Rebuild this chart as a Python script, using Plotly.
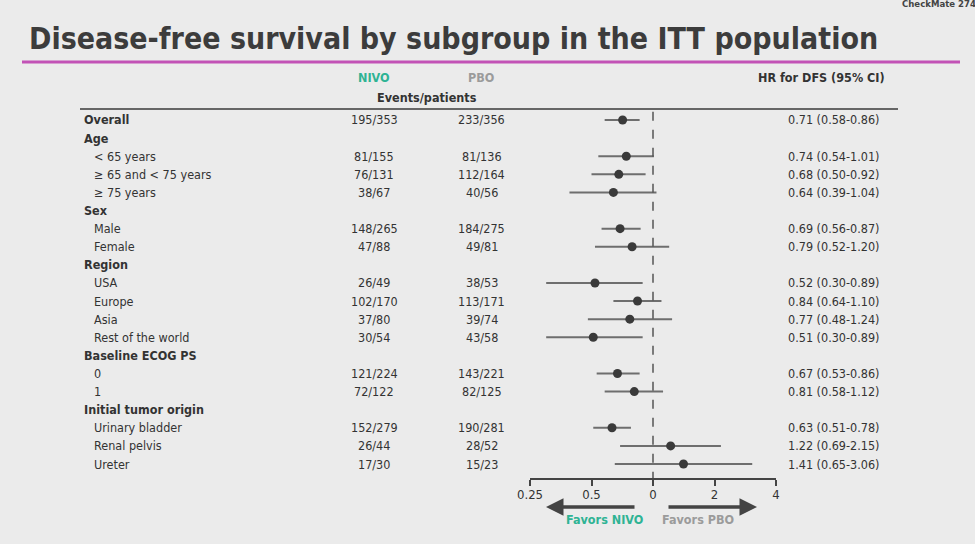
import math
import plotly.graph_objects as go

# ---------------- data ----------------
labels = ["Overall", "Age", "< 65 years", "≥ 65 and < 75 years", "≥ 75 years",
          "Sex", "Male", "Female", "Region", "USA", "Europe", "Asia",
          "Rest of the world", "Baseline ECOG PS", "0", "1",
          "Initial tumor origin", "Urinary bladder", "Renal pelvis", "Ureter"]
is_group = [True, True, False, False, False, True, False, False, True, False,
            False, False, False, True, False, False, True, False, False, False]
nivo = ["195/353", "", "81/155", "76/131", "38/67", "", "148/265", "47/88", "",
        "26/49", "102/170", "37/80", "30/54", "", "121/224", "72/122", "",
        "152/279", "26/44", "17/30"]
pbo = ["233/356", "", "81/136", "112/164", "40/56", "", "184/275", "49/81", "",
       "38/53", "113/171", "39/74", "43/58", "", "143/221", "82/125", "",
       "190/281", "28/52", "15/23"]
hr = [0.71, None, 0.74, 0.68, 0.64, None, 0.69, 0.79, None, 0.52, 0.84, 0.77,
      0.51, None, 0.67, 0.81, None, 0.63, 1.22, 1.41]
ci_lo = [0.58, None, 0.54, 0.50, 0.39, None, 0.56, 0.52, None, 0.30, 0.64, 0.48,
         0.30, None, 0.53, 0.58, None, 0.51, 0.69, 0.65]
ci_hi = [0.86, None, 1.01, 0.92, 1.04, None, 0.87, 1.20, None, 0.89, 1.10, 1.24,
         0.89, None, 0.86, 1.12, None, 0.78, 2.15, 3.06]
tick_vals = [0.25, 0.5, 1, 2, 4]
tick_text = ["0.25", "0.5", "0", "2", "4"]

# ---------------- style ----------------
W, H = 975, 544
BG = "#ebebeb"
TXT = "#333333"
TEAL = "#2fb394"
GREY = "#9b9b9b"
FONT = "DejaVu Sans Condensed, Open Sans, sans-serif"
FS = 12.5


def px(x):
    return x / W


def py(y):
    return 1 - y / H


rows = list(range(len(labels)))

fig = go.Figure()

# CI lines
lx, ly = [], []
for i, (a, b) in enumerate(zip(ci_lo, ci_hi)):
    if a is None:
        continue
    lx += [a, b, None]
    ly += [i, i, None]
fig.add_trace(go.Scatter(x=lx, y=ly, mode="lines",
                         line=dict(color="#6e6e6e", width=2),
                         hoverinfo="skip", showlegend=False, cliponaxis=False))
# points
pt_x = [h for h in hr if h is not None]
pt_y = [i for i, h in zip(rows, hr) if h is not None]
fig.add_trace(go.Scatter(x=pt_x, y=pt_y, mode="markers",
                         marker=dict(color="#3a3a3a", size=9),
                         showlegend=False, cliponaxis=False))

ann = []
# row text
for i in rows:
    indent = 82 if is_group[i] else 92
    lab = f"<b>{labels[i]}</b>" if is_group[i] else labels[i]
    ann.append(dict(x=px(indent), xref="paper", y=i, yref="y", text=lab,
                    xanchor="left", yanchor="middle", showarrow=False,
                    font=dict(size=FS, color=TXT, family=FONT)))
    if nivo[i]:
        ann.append(dict(x=px(374), xref="paper", y=i, yref="y", text=nivo[i],
                        xanchor="center", yanchor="middle", showarrow=False,
                        font=dict(size=FS, color=TXT, family=FONT)))
    if pbo[i]:
        ann.append(dict(x=px(481.5), xref="paper", y=i, yref="y", text=pbo[i],
                        xanchor="center", yanchor="middle", showarrow=False,
                        font=dict(size=FS, color=TXT, family=FONT)))
    if hr[i] is not None:
        t = f"{hr[i]:.2f} ({ci_lo[i]:.2f}-{ci_hi[i]:.2f})"
        ann.append(dict(x=px(786), xref="paper", y=i, yref="y", text=t,
                        xanchor="left", yanchor="middle", showarrow=False,
                        font=dict(size=FS, color=TXT, family=FONT)))


def txt(x, y, s, color=TXT, size=FS, anchor="center", bold=False):
    ann.append(dict(x=px(x), y=py(y), xref="paper", yref="paper",
                    text=f"<b>{s}</b>" if bold else s, showarrow=False,
                    xanchor=anchor, yanchor="middle",
                    font=dict(size=size, color=color, family=FONT)))


txt(27, 39, "Disease-free survival by subgroup in the ITT population",
    color="#3c3c3c", size=30, anchor="left", bold=True)
txt(900, 4, "CheckMate 274", color="#444", size=9.5, anchor="left", bold=True)
txt(374, 78, "NIVO", color=TEAL, bold=True)
txt(481, 78, "PBO", color=GREY, bold=True)
txt(427, 97, "Events/patients", bold=True)
txt(887, 78, "HR for DFS (95% CI)", anchor="right", bold=True)
txt(604, 519, "Favors NIVO", color=TEAL, bold=True)
txt(698, 519, "Favors PBO", color=GREY, bold=True)

# arrows
ann.append(dict(x=px(546), y=py(507), xref="paper", yref="paper", text="",
                showarrow=True, ax=90, ay=0, arrowhead=2, arrowsize=1,
                arrowwidth=3.5, arrowcolor="#444"))
ann.append(dict(x=px(757), y=py(507), xref="paper", yref="paper", text="",
                showarrow=True, ax=-90, ay=0, arrowhead=2, arrowsize=1,
                arrowwidth=3.5, arrowcolor="#444"))

shapes = [
    dict(type="line", xref="paper", yref="paper", x0=px(22), x1=px(960),
         y0=py(62), y1=py(62), line=dict(color="#c252b6", width=3)),
    dict(type="line", xref="paper", yref="paper", x0=px(80), x1=px(898),
         y0=py(109), y1=py(109), line=dict(color="#666666", width=2)),
    dict(type="line", xref="x", yref="y", x0=1, x1=1, y0=-0.45, y1=19.77,
         line=dict(color="#555555", width=1.5, dash="dash")),
]

pitch = (464 - 120) / 19
y_bottom = 19 + (478 - 464) / pitch
y_top = -(120 - 110) / pitch

fig.update_layout(
    width=W, height=H, margin=dict(l=0, r=0, t=0, b=0, autoexpand=False),
    paper_bgcolor=BG, plot_bgcolor=BG,
    annotations=ann, shapes=shapes, showlegend=False,
    xaxis=dict(type="log", range=[math.log10(0.25), math.log10(4)],
               domain=[px(530), px(776)], showgrid=False, zeroline=False,
               showline=True, linecolor="#444", linewidth=2,
               ticks="outside", ticklen=6, tickwidth=2, tickcolor="#444",
               tickvals=tick_vals, ticktext=tick_text, ticklabelstandoff=-3,
               tickfont=dict(size=13, color=TXT, family=FONT)),
    yaxis=dict(range=[y_bottom, y_top], domain=[py(478), py(110)],
               visible=False, showgrid=False, zeroline=False),
)

fig.write_html("out.html")
